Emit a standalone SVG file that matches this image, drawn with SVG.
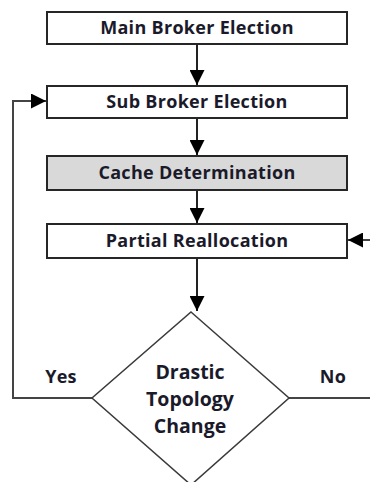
<svg xmlns="http://www.w3.org/2000/svg" width="370" height="482" viewBox="0 0 370 482">
  <style>
    .box { fill: #ffffff; stroke: #262626; stroke-width: 2; }
    .box.grey { fill: #d9d9d9; }
    .dec { fill: #ffffff; stroke: #3a3a3a; stroke-width: 1.5; }
    .lbl { font-family: "Open Sans", "Noto Sans", "Liberation Sans", sans-serif; font-weight: bold; font-size: 18px; letter-spacing: 0.3px; fill: #1a1a2a; text-anchor: middle; }
    .big { font-size: 19.5px; letter-spacing: 0; }
    .edge { fill: none; stroke: #222222; stroke-width: 2; }
    .loop { fill: none; stroke: #444444; stroke-width: 2; }
  </style>
  <defs>
    <marker id="arrowBig" viewBox="0 0 10 10" refX="10" refY="5" markerWidth="15" markerHeight="15" orient="auto" markerUnits="userSpaceOnUse">
      <path d="M0,0 L10,5 L0,10 Z" fill="#000000"/>
    </marker>
  </defs>

  <g id="connectors">
    <line class="edge" x1="197" y1="44" x2="197" y2="85" marker-end="url(#arrowBig)"/>
    <line class="edge" x1="197" y1="118" x2="197" y2="155" marker-end="url(#arrowBig)"/>
    <line class="edge" x1="197" y1="190" x2="197" y2="223" marker-end="url(#arrowBig)"/>
    <line class="edge" x1="197" y1="258" x2="197" y2="311" marker-end="url(#arrowBig)"/>
    <!-- Yes: loop back to sub broker election -->
    <polyline class="loop" points="92,398 13,398 13,101 46,101" marker-end="url(#arrowBig)"/>
    <!-- No: around to partial reallocation -->
    <line class="loop" x1="289" y1="398" x2="370" y2="398"/>
    <line class="loop" x1="370" y1="240" x2="348" y2="240" marker-end="url(#arrowBig)"/>
    <text class="lbl" x="61" y="383">Yes</text>
    <text class="lbl" x="333" y="383">No</text>
  </g>

  <g id="main-broker-election">
    <rect class="box" x="47" y="12" width="300" height="32"/>
    <text class="lbl" x="197" y="34">Main Broker Election</text>
  </g>
  <g id="sub-broker-election">
    <rect class="box" x="47" y="86" width="300" height="32"/>
    <text class="lbl" x="197" y="108">Sub Broker Election</text>
  </g>
  <g id="cache-determination">
    <rect class="box grey" x="47" y="156" width="300" height="34"/>
    <text class="lbl" x="197" y="179">Cache Determination</text>
  </g>
  <g id="partial-reallocation">
    <rect class="box" x="47" y="224" width="300" height="34"/>
    <text class="lbl" x="197" y="247">Partial Reallocation</text>
  </g>
  <g id="drastic-topology-change">
    <polygon class="dec" points="191,312 289,398 191,485 92,398"/>
    <text class="lbl big" x="190" y="379">Drastic</text>
    <text class="lbl big" x="190" y="406">Topology</text>
    <text class="lbl big" x="190" y="433">Change</text>
  </g>
</svg>
